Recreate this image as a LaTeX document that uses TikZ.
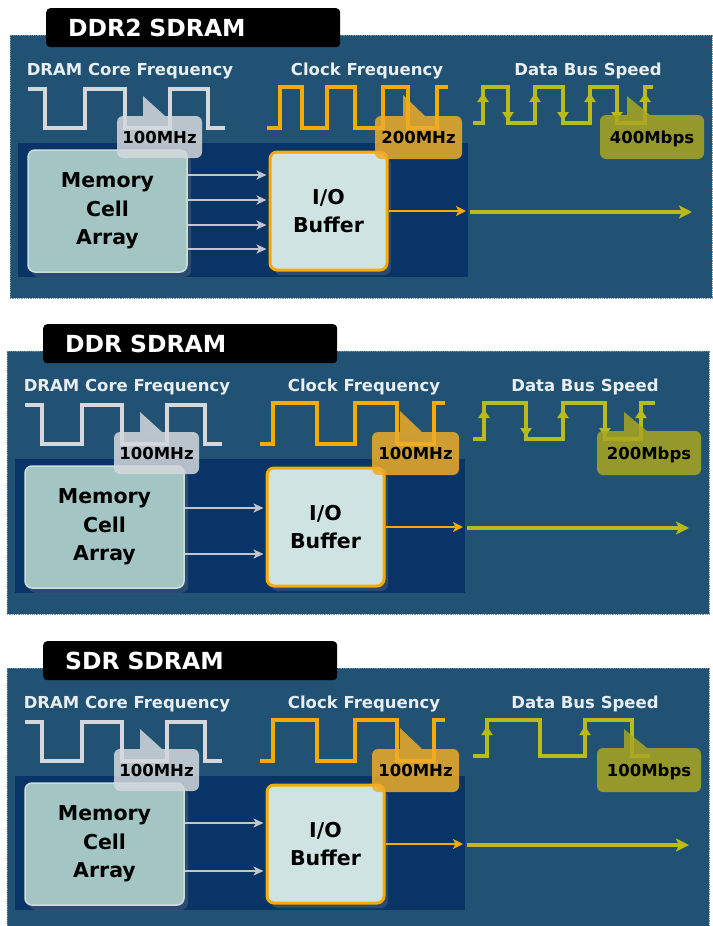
\documentclass[tikz,border=0pt]{standalone}
\usepackage{fontspec}
\setmainfont{DejaVu Sans}
\usetikzlibrary{arrows.meta, shadows}

\definecolor{panelblue}{RGB}{33,82,115}
\definecolor{paneledge}{RGB}{105,145,172}
\definecolor{innerblue}{RGB}{9,52,104}
\definecolor{labelwhite}{RGB}{232,238,242}
\definecolor{coregrey}{RGB}{212,216,220}
\definecolor{clockorange}{RGB}{247,170,0}
\definecolor{busolive}{RGB}{186,186,26}
\definecolor{greybub}{RGB}{212,216,220}
\definecolor{orangebub}{RGB}{238,172,40}
\definecolor{olivebub}{RGB}{170,166,32}
\definecolor{memfill}{RGB}{163,197,196}
\definecolor{memedge}{RGB}{205,222,222}
\definecolor{iofill}{RGB}{207,228,226}
\definecolor{arrowgrey}{RGB}{194,198,202}

\newcommand{\ttlfont}{\fontsize{23.5}{26}\selectfont\bfseries}
\newcommand{\lblfont}{\fontsize{16.5}{18}\selectfont\bfseries}
\newcommand{\bubfont}{\fontsize{16.5}{18}\selectfont\bfseries}
\newcommand{\boxfont}{\fontsize{20.5}{28.5}\selectfont\bfseries}

\tikzset{
  panelbg/.style={fill=panelblue, draw=paneledge, densely dotted, line width=0.8pt},
  innerbox/.style={fill=innerblue},
  titlebox/.style={fill=black, rounded corners=4pt, text=white, font=\ttlfont,
    anchor=north west, minimum height=39pt, text width=250pt, inner xsep=22pt,
    text height=17pt, text depth=0pt, align=left},
  freqlabel/.style={text=labelwhite, font=\lblfont, inner sep=0pt, anchor=base},
  corewave/.style={draw=coregrey, line width=3.5pt},
  clockwave/.style={draw=clockorange, line width=4pt},
  buswave/.style={draw=busolive, line width=4pt},
  edgeup/.style={draw=busolive, line width=4pt, -{Triangle[length=9pt,width=11pt]}},
  edgedown/.style={edgeup},
  bubble/.style={font=\bubfont, text=black, rounded corners=6pt, inner sep=0pt,
    fill opacity=0.85, text opacity=1, text height=12pt, text depth=0pt},
  membox/.style={fill=memfill, draw=memedge, line width=1.5pt, rounded corners=7pt,
    minimum width=159pt, minimum height=122pt, align=center, font=\boxfont,
    drop shadow={shadow xshift=4pt, shadow yshift=-5pt, opacity=0.3}},
  iobox/.style={fill=iofill, draw=clockorange, line width=3pt, rounded corners=7pt,
    minimum width=117pt, minimum height=118pt, align=center, font=\boxfont,
    drop shadow={shadow xshift=4pt, shadow yshift=-5pt, opacity=0.3}},
  memarrow/.style={draw=arrowgrey, line width=2pt, shorten >=2pt,
    -{Stealth[length=10pt,width=9pt,inset=2.5pt]}},
  clockarrow/.style={draw=clockorange, line width=2.5pt, shorten >=4pt,
    -{Stealth[length=10pt,width=10pt,inset=2.5pt]}},
  busarrow/.style={draw=busolive, line width=4.5pt,
    -{Stealth[length=13pt,width=13pt,inset=3pt]}}
}

% one panel: #1 prefix, #2 title, #3 clock, #4 bus speed, #5 waves and arrows
\newcommand{\drampanel}[5]{%
  \path[panelbg] (10,35) rectangle (712,298);
  \fill[innerbox] (18,143) rectangle (468,277);
  \node[titlebox] (#1title) at (46,8) {#2};
  \node[freqlabel] (#1corelbl) at (130,75) {DRAM Core Frequency};
  \node[freqlabel] (#1clocklbl) at (367,75) {Clock Frequency};
  \node[freqlabel] (#1buslbl) at (588,75) {Data Bus Speed};
  % memory and buffer
  \node[membox] (#1mem) at (107.5,211) {Memory\\Cell\\Array};
  \node[iobox] (#1io) at (328.5,211) {I/O\\Buffer};
  \coordinate (#1busin) at (470,212);
  \coordinate (#1busout) at (692,212);
  \draw[clockarrow] (#1io.east) -- (#1io.east -| #1busin);
  \draw[busarrow] (#1busin) -- (#1busout);
  #5
  % frequency bubbles
  \node[bubble, fill=greybub, minimum width=85pt, minimum height=42pt] (#1corebub) at (159.5,137) {100MHz};
  \fill[greybub, fill opacity=0.85] (143,96) -- (143,116) -- (165,116) -- cycle;
  \node[bubble, fill=orangebub, minimum width=87pt, minimum height=43pt] (#1clockbub) at (418.5,137.5) {#3};
  \fill[orangebub, fill opacity=0.85] (403,95) -- (403,116) -- (425,116) -- cycle;
  \node[bubble, fill=olivebub, minimum width=104pt, minimum height=44pt] (#1busbub) at (652,137) {#4};
  \fill[olivebub, fill opacity=0.85] (627,96) -- (627,115) -- (650,115) -- cycle;
}

\begin{document}
\begin{tikzpicture}[x=1pt, y=-1pt]
  \useasboundingbox[fill=white] (0,0) rectangle (712,926);

  % DDR2 SDRAM
  \begin{scope}
    \drampanel{a}{DDR2 SDRAM}{200MHz}{400Mbps}{
      \draw[corewave] (28,89) -- (45,89) -- (45,128) -- (85,128) -- (85,89) -- (125,89)
        -- (125,128) -- (170,128) -- (170,89) -- (208,89) -- (208,128) -- (225,128);
      \draw[clockwave] (267,128) -- (280,128) -- (280,87) -- (302,87) -- (302,128) -- (327,128)
        -- (327,87) -- (355,87) -- (355,128) -- (383,128) -- (383,87) -- (408,87)
        -- (408,128) -- (437,128) -- (437,87) -- (448,87);
      \draw[buswave] (473,123) -- (483,123) -- (483,87) -- (508,87) -- (508,123) -- (535,123)
        -- (535,87) -- (563,87) -- (563,123) -- (590,123) -- (590,87) -- (617,87)
        -- (617,123) -- (645,123) -- (645,87) -- (653,87);
      \draw[edgeup] (483,112) -- (483,93);
      \draw[edgeup] (535,112) -- (535,93);
      \draw[edgeup] (590,112) -- (590,93);
      \draw[edgeup] (645,112) -- (645,93);
      \draw[edgedown] (508,98) -- (508,121);
      \draw[edgedown] (563,98) -- (563,121);
      \draw[edgedown] (617,98) -- (617,121);
      % four lines from the cell array
      \draw[memarrow] (amem.east |- 0,175) -- (aio.west |- 0,175);
      \draw[memarrow] (amem.east |- 0,200) -- (aio.west |- 0,200);
      \draw[memarrow] (amem.east |- 0,225) -- (aio.west |- 0,225);
      \draw[memarrow] (amem.east |- 0,249) -- (aio.west |- 0,249);
    }
  \end{scope}

  % DDR SDRAM
  \begin{scope}[shift={(-3,316)}]
    \drampanel{b}{DDR SDRAM}{100MHz}{200Mbps}{
      \draw[corewave] (28,89) -- (45,89) -- (45,128) -- (85,128) -- (85,89) -- (125,89)
        -- (125,128) -- (170,128) -- (170,89) -- (208,89) -- (208,128) -- (225,128);
      \draw[clockwave] (263,128) -- (276,128) -- (276,87) -- (320,87) -- (320,128) -- (358,128)
        -- (358,87) -- (400,87) -- (400,128) -- (437,128) -- (437,87) -- (448,87);
      \draw[buswave] (476,123) -- (487,123) -- (487,87) -- (529,87) -- (529,123) -- (566,123)
        -- (566,87) -- (608,87) -- (608,123) -- (644,123) -- (644,87) -- (658,87);
      \draw[edgeup] (487,112) -- (487,93);
      \draw[edgeup] (566,112) -- (566,93);
      \draw[edgeup] (644,112) -- (644,93);
      \draw[edgedown] (529,98) -- (529,121);
      \draw[edgedown] (608,98) -- (608,121);
      % two lines from the cell array
      \draw[memarrow] (bmem.east |- 0,192) -- (bio.west |- 0,192);
      \draw[memarrow] (bmem.east |- 0,238) -- (bio.west |- 0,238);
    }
  \end{scope}

  % SDR SDRAM
  \begin{scope}[shift={(-3,633)}]
    \drampanel{c}{SDR SDRAM}{100MHz}{100Mbps}{
      \draw[corewave] (28,89) -- (45,89) -- (45,128) -- (85,128) -- (85,89) -- (125,89)
        -- (125,128) -- (170,128) -- (170,89) -- (208,89) -- (208,128) -- (225,128);
      \draw[clockwave] (263,128) -- (276,128) -- (276,87) -- (320,87) -- (320,128) -- (358,128)
        -- (358,87) -- (400,87) -- (400,128) -- (437,128) -- (437,87) -- (448,87);
      \draw[buswave] (476,123) -- (490,123) -- (490,87) -- (543,87) -- (543,123) -- (588,123)
        -- (588,87) -- (635,87) -- (635,123) -- (653,123);
      \draw[edgeup] (490,112) -- (490,93);
      \draw[edgeup] (588,112) -- (588,93);
      % two lines from the cell array
      \draw[memarrow] (cmem.east |- 0,190) -- (cio.west |- 0,190);
      \draw[memarrow] (cmem.east |- 0,238) -- (cio.west |- 0,238);
    }
  \end{scope}
\end{tikzpicture}
\end{document}
